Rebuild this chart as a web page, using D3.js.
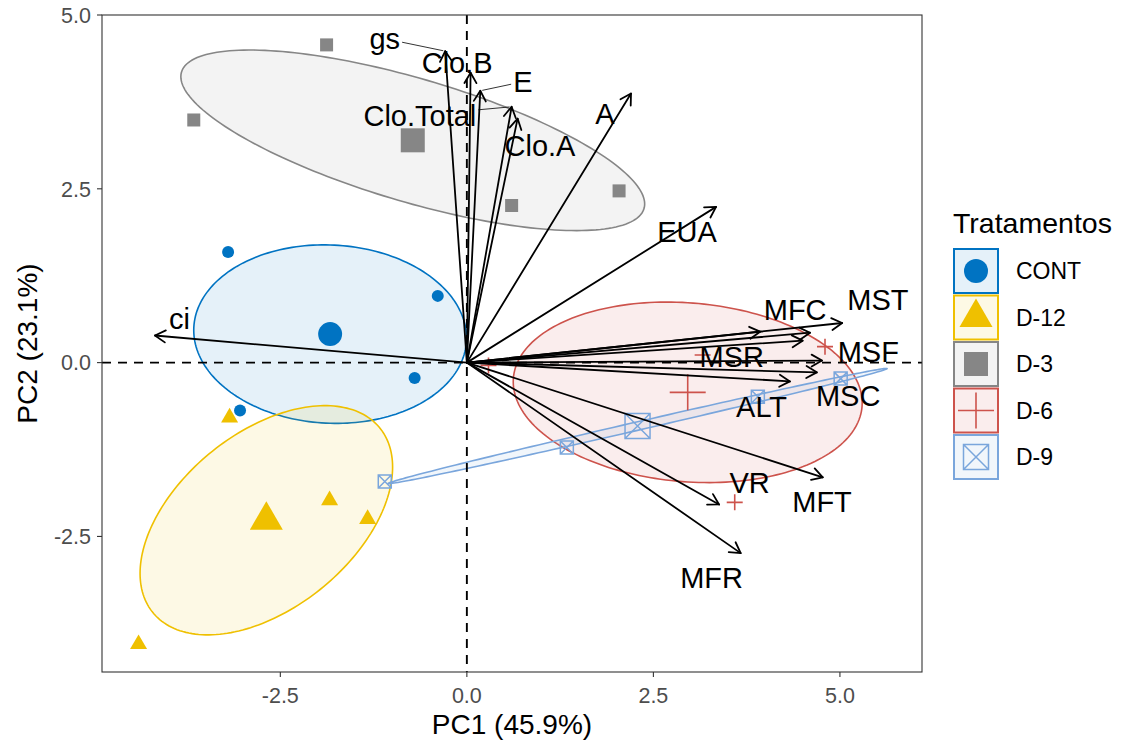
<!DOCTYPE html>
<html>
<head>
<meta charset="utf-8">
<script src="https://cdn.jsdelivr.net/npm/d3@7"></script>
<style>
  body { margin: 0; background: #fff; }
  svg { display: block; }
  text { font-family: "Liberation Sans", Arial, sans-serif; }
</style>
</head>
<body>
<svg id="chart" width="1125" height="742"></svg>
<script>
// PCA biplot: individuals by treatment, 95% confidence ellipses around group means,
// and variable loading arrows.

const groups = ["CONT", "D-12", "D-3", "D-6", "D-9"];
const groupColors = ["#0073C2", "#EFC000", "#868686", "#CD534C", "#7AA6DC"];
const groupShapes = ["circle", "triangle", "square", "plus", "squareX"];

// Individual scores (PC1, PC2) per treatment
const contPC1 = [-3.20, -0.39, -0.70, -3.04];
const contPC2 = [1.59, 0.96, -0.22, -0.69];
const d12PC1 = [-3.18, -1.84, -1.33, -4.40];
const d12PC2 = [-0.79, -1.98, -2.25, -4.05];
const d3PC1 = [-1.88, -3.66, 0.60, 2.04];
const d3PC2 = [4.57, 3.49, 2.26, 2.47];
const d6PC1 = [0.29, 3.16, 4.80, 3.59];
const d6PC2 = [-0.04, 0.11, 0.23, -2.01];
const d9PC1 = [-1.10, 1.34, 3.90, 5.01];
const d9PC2 = [-1.71, -1.22, -0.49, -0.23];

const groupPC1 = [contPC1, d12PC1, d3PC1, d6PC1, d9PC1];
const groupPC2 = [contPC2, d12PC2, d3PC2, d6PC2, d9PC2];

// Variable loadings (arrow tips); an empty label is one the repel step left out
const varLabels = ["ci", "gs", "Clo.B", "E", "Clo.Total", "Clo.A", "A", "EUA",
  "MST", "MFC", "MSR", "MSF", "MSC", "ALT", "VR", "MFT", "MFR", ""];
const varPC1 = [-4.18, -0.29, 0.05, 0.18, 0.60, 0.68, 2.20, 3.34,
  5.03, 4.60, 3.93, 4.76, 4.69, 4.33, 3.38, 4.77, 3.67, 4.50];
const varPC2 = [0.39, 4.48, 4.17, 3.91, 3.68, 3.51, 3.87, 2.24,
  0.57, 0.43, 0.445, 0.03, -0.14, -0.27, -2.04, -1.65, -2.74, 0.316];
// Repelled label anchors
const labelPC1 = [-3.85, -1.10, -0.13, 0.75, -0.63, 0.98, 1.85, 2.95,
  5.51, 4.40, 3.55, 5.38, 5.11, 3.95, 3.79, 4.76, 3.28, 0];
const labelPC2 = [0.63, 4.66, 4.31, 4.04, 3.56, 3.12, 3.58, 1.88,
  0.905, 0.76, 0.086, 0.16, -0.47, -0.63, -1.72, -2.00, -3.09, 0];

const xTicks = [-2.5, 0, 2.5, 5];
const yTicks = [-2.5, 0, 2.5, 5];
const xTitle = "PC1 (45.9%)";
const yTitle = "PC2 (23.1%)";
const legendTitle = "Tratamentos";

// ---- layout ----
const panel = { left: 102, right: 922, top: 15, bottom: 672 };
const x = d3.scaleLinear().domain([-4.89, 6.10]).range([panel.left, panel.right]);
const y = d3.scaleLinear().domain([-4.45, 5.0]).range([panel.bottom, panel.top]);

const svg = d3.select("#chart");
// one decimal, plain hyphen for negatives
const fmt = v => d3.format(".1f")(v).replace("\u2212", "-");

svg.append("defs").append("clipPath").attr("id", "panelClip")
  .append("rect")
  .attr("x", panel.left).attr("y", panel.top)
  .attr("width", panel.right - panel.left).attr("height", panel.bottom - panel.top);

const plot = svg.append("g").attr("clip-path", "url(#panelClip)");

// ---- confidence ellipses (mean +/- sqrt(chi2_0.95/n) * Cholesky(cov)) ----
function ellipsePoints(px, py) {
  const n = px.length;
  const mx = d3.mean(px), my = d3.mean(py);
  let sxx = 0, syy = 0, sxy = 0;
  for (let i = 0; i < n; i++) {
    sxx += (px[i] - mx) ** 2;
    syy += (py[i] - my) ** 2;
    sxy += (px[i] - mx) * (py[i] - my);
  }
  sxx /= (n - 1); syy /= (n - 1); sxy /= (n - 1);
  const k = Math.sqrt(-2 * Math.log(0.05) / n);
  const a = Math.sqrt(sxx), b = sxy / a, c = Math.sqrt(Math.max(syy - b * b, 0));
  return d3.range(0, 200).map(i => {
    const t = i / 200 * 2 * Math.PI;
    return [mx + k * a * Math.cos(t), my + k * (b * Math.cos(t) + c * Math.sin(t))];
  });
}

const ellipseLine = d3.line().x(d => x(d[0])).y(d => y(d[1])).curve(d3.curveLinearClosed);

groups.forEach((g, i) => {
  plot.append("path")
    .attr("d", ellipseLine(ellipsePoints(groupPC1[i], groupPC2[i])))
    .attr("fill", groupColors[i]).attr("fill-opacity", 0.1)
    .attr("stroke", groupColors[i]).attr("stroke-width", 1.6);
});

// ---- reference lines ----
plot.append("line")
  .attr("x1", panel.left).attr("x2", panel.right).attr("y1", y(0)).attr("y2", y(0))
  .attr("stroke", "#000").attr("stroke-width", 1.9).attr("stroke-dasharray", "9,7");
plot.append("line")
  .attr("x1", x(0)).attr("x2", x(0)).attr("y1", panel.top).attr("y2", panel.bottom)
  .attr("stroke", "#000").attr("stroke-width", 1.9).attr("stroke-dasharray", "9,7");

// ---- point symbols ----
function drawSymbol(sel, shape, cx, cy, s, color) {
  if (shape === "circle") {
    sel.append("circle").attr("cx", cx).attr("cy", cy).attr("r", s / 2).attr("fill", color);
  } else if (shape === "triangle") {
    const h = s * Math.sqrt(3) / 2;
    sel.append("path")
      .attr("d", `M${cx},${cy - 2 * h / 3}L${cx - s / 2},${cy + h / 3}L${cx + s / 2},${cy + h / 3}Z`)
      .attr("fill", color);
  } else if (shape === "square") {
    sel.append("rect").attr("x", cx - s / 2).attr("y", cy - s / 2)
      .attr("width", s).attr("height", s).attr("fill", color);
  } else if (shape === "plus") {
    sel.append("path")
      .attr("d", `M${cx - s / 2},${cy}H${cx + s / 2}M${cx},${cy - s / 2}V${cy + s / 2}`)
      .attr("stroke", color).attr("stroke-width", 1.6).attr("fill", "none");
  } else if (shape === "squareX") {
    const h = s / 2;
    sel.append("path")
      .attr("d", `M${cx - h},${cy - h}H${cx + h}V${cy + h}H${cx - h}Z` +
        `M${cx - h},${cy - h}L${cx + h},${cy + h}M${cx + h},${cy - h}L${cx - h},${cy + h}`)
      .attr("stroke", color).attr("stroke-width", 1.5).attr("fill", "none");
  }
}

const smallSize = { circle: 12, triangle: 17, square: 13, plus: 16, squareX: 13 };
const largeSize = { circle: 24, triangle: 33, square: 24, plus: 36, squareX: 25 };

const pts = plot.append("g");
groups.forEach((g, i) => {
  groupPC1[i].forEach((v, j) => {
    drawSymbol(pts, groupShapes[i], x(v), y(groupPC2[i][j]), smallSize[groupShapes[i]], groupColors[i]);
  });
});
groups.forEach((g, i) => {
  drawSymbol(pts, groupShapes[i], x(d3.mean(groupPC1[i])), y(d3.mean(groupPC2[i])),
    largeSize[groupShapes[i]], groupColors[i]);
});

// ---- variable arrows ----
const arrows = plot.append("g").attr("stroke", "#000").attr("fill", "none")
  .attr("stroke-width", 1.8).attr("stroke-linecap", "round").attr("stroke-linejoin", "round");
const headLen = 12, headAng = Math.PI / 6;
varPC1.forEach((v, i) => {
  const x0 = x(0), y0 = y(0), x1 = x(v), y1 = y(varPC2[i]);
  const ang = Math.atan2(y1 - y0, x1 - x0);
  arrows.append("line").attr("x1", x0).attr("y1", y0).attr("x2", x1).attr("y2", y1);
  arrows.append("path").attr("d",
    `M${x1 - headLen * Math.cos(ang - headAng)},${y1 - headLen * Math.sin(ang - headAng)}` +
    `L${x1},${y1}` +
    `L${x1 - headLen * Math.cos(ang + headAng)},${y1 - headLen * Math.sin(ang + headAng)}`);
});

// ---- variable labels with leader segments when far from the tip ----
const labelFont = 29;
const labels = plot.append("g");
varLabels.forEach((lab, i) => {
  if (!lab) return;
  const lx = x(labelPC1[i]), ly = y(labelPC2[i]);
  const t = labels.append("text").attr("x", lx).attr("y", ly).attr("dy", "0.36em")
    .attr("text-anchor", "middle").attr("font-size", labelFont).attr("fill", "#000").text(lab);
  const w = t.node().getComputedTextLength();
  const hw = w / 2 + 2, hh = labelFont * 0.36 + 2;
  const tx = x(varPC1[i]), ty = y(varPC2[i]);
  const dx = tx - lx, dy = ty - ly;
  const tEdge = Math.min(Math.abs(dx) > 0 ? hw / Math.abs(dx) : Infinity,
                         Math.abs(dy) > 0 ? hh / Math.abs(dy) : Infinity);
  if (tEdge < 1) {
    const sx = lx + dx * tEdge, sy = ly + dy * tEdge;
    const len = Math.hypot(tx - sx, ty - sy);
    if (len > 28) {
      labels.append("line").attr("x1", sx).attr("y1", sy).attr("x2", tx - dx / Math.hypot(dx, dy) * 2)
        .attr("y2", ty - dy / Math.hypot(dx, dy) * 2)
        .attr("stroke", "#000").attr("stroke-width", 0.8);
    }
  }
});

// ---- panel border & axes ----
svg.append("rect")
  .attr("x", panel.left).attr("y", panel.top)
  .attr("width", panel.right - panel.left).attr("height", panel.bottom - panel.top)
  .attr("fill", "none").attr("stroke", "#333333").attr("stroke-width", 1.1);

const tickFont = 21.5;
const xAxis = svg.append("g");
xTicks.forEach(v => {
  xAxis.append("line").attr("x1", x(v)).attr("x2", x(v))
    .attr("y1", panel.bottom).attr("y2", panel.bottom + 5)
    .attr("stroke", "#333333").attr("stroke-width", 1.1);
  xAxis.append("text").attr("x", x(v)).attr("y", panel.bottom + 31)
    .attr("text-anchor", "middle").attr("font-size", tickFont).attr("fill", "#4D4D4D").text(fmt(v));
});
const yAxis = svg.append("g");
yTicks.forEach(v => {
  yAxis.append("line").attr("x1", panel.left - 5).attr("x2", panel.left)
    .attr("y1", y(v)).attr("y2", y(v))
    .attr("stroke", "#333333").attr("stroke-width", 1.1);
  yAxis.append("text").attr("x", panel.left - 11).attr("y", y(v)).attr("dy", "0.36em")
    .attr("text-anchor", "end").attr("font-size", tickFont).attr("fill", "#4D4D4D").text(fmt(v));
});

svg.append("text").attr("x", (panel.left + panel.right) / 2).attr("y", 734)
  .attr("text-anchor", "middle").attr("font-size", 28).attr("fill", "#000").text(xTitle);
svg.append("text")
  .attr("transform", `translate(37,${(panel.top + panel.bottom) / 2}) rotate(-90)`)
  .attr("text-anchor", "middle").attr("font-size", 28).attr("fill", "#000").text(yTitle);

// ---- legend ----
const legend = svg.append("g");
legend.append("text").attr("x", 953).attr("y", 233)
  .attr("font-size", 28.5).attr("fill", "#000").text(legendTitle);
const keyTop = 249, keyStep = 46.5, keySize = 44, keyLeft = 954;
groups.forEach((g, i) => {
  const ky = keyTop + i * keyStep;
  legend.append("rect").attr("x", keyLeft).attr("y", ky).attr("width", keySize).attr("height", keySize)
    .attr("fill", groupColors[i]).attr("fill-opacity", 0.1)
    .attr("stroke", groupColors[i]).attr("stroke-width", 2);
  drawSymbol(legend, groupShapes[i], keyLeft + keySize / 2, ky + keySize / 2,
    largeSize[groupShapes[i]], groupColors[i]);
  legend.append("text").attr("x", 1016).attr("y", ky + keySize / 2).attr("dy", "0.36em")
    .attr("font-size", 23).attr("fill", "#000").text(g);
});
</script>
</body>
</html>
